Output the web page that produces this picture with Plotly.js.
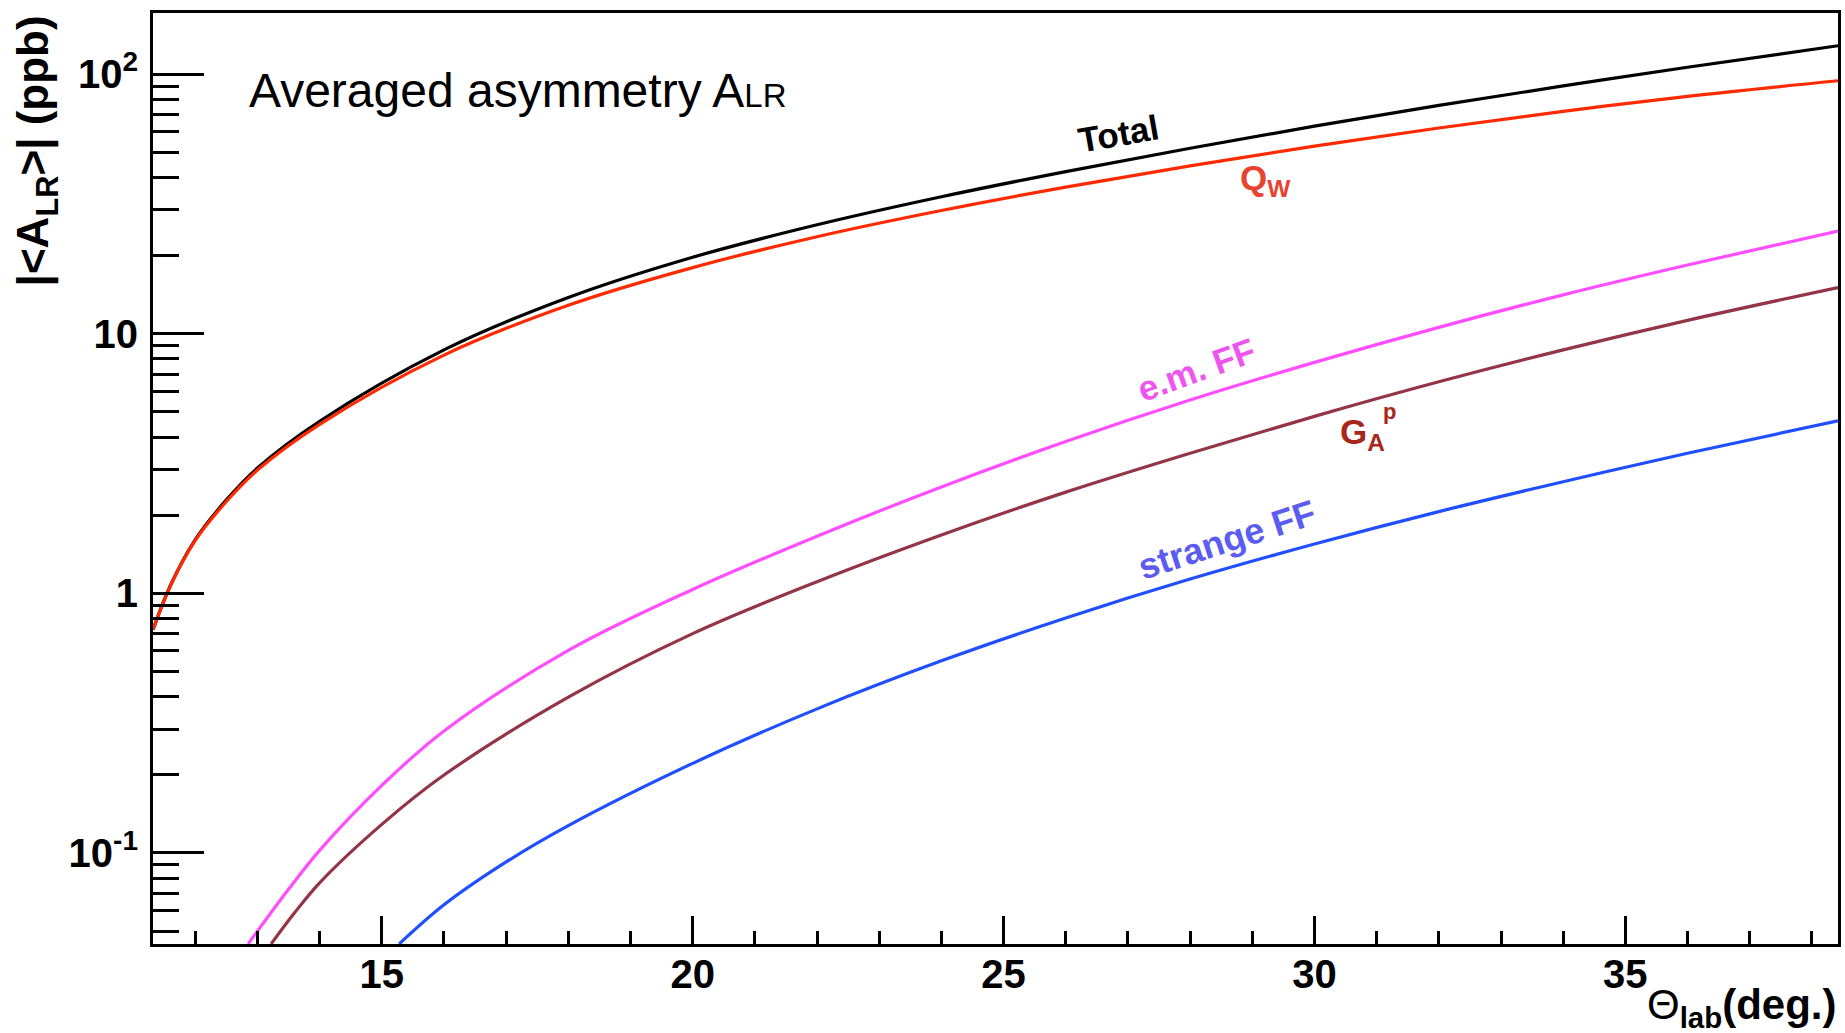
<!DOCTYPE html>
<html>
<head>
<meta charset="utf-8">
<script src="https://cdn.plot.ly/plotly-3.0.1.min.js"></script>
<style>html,body{margin:0;padding:0;background:#fff;}#chart{width:1845px;height:1033px;}</style>
</head>
<body>
<div id="chart"></div>
<script>
// ---- data ----
const thetaMain = [11.32, 11.6, 12, 12.5, 13, 14, 16, 18, 20, 22, 24, 26, 28, 30, 32, 34, 36, 38.42];
const totalAsym = [0.724, 1.072, 1.611, 2.291, 3.041, 4.603, 8.670, 13.80, 19.72, 26.30, 33.73, 42.17, 51.88, 63.10, 75.86, 90.16, 106.4, 128.8];
const qwAsym    = [0.724, 1.069, 1.600, 2.259, 2.985, 4.477, 8.279, 12.88, 17.99, 23.66, 29.85, 36.73, 44.36, 52.84, 62.09, 71.94, 82.22, 94.41];

const thetaEM = [12.85, 13.5, 14, 15, 16, 18, 20, 22, 24, 26, 28, 30, 32, 34, 36, 38.42];
const emFF    = [0.0446, 0.0724, 0.1023, 0.1820, 0.2951, 0.6026, 1.035, 1.660, 2.570, 3.846, 5.559, 7.762, 10.59, 14.13, 18.41, 24.89];

const thetaGA = [13.22, 13.6, 14, 15, 16, 18, 20, 22, 24, 26, 28, 30, 32, 34, 36, 38.42];
const gaP     = [0.0446, 0.0589, 0.0767, 0.1288, 0.1995, 0.3981, 0.6998, 1.109, 1.679, 2.455, 3.467, 4.808, 6.531, 8.670, 11.27, 15.07];

const thetaS  = [15.28, 16, 17, 18, 20, 22, 24, 26, 28, 30, 32, 34, 36, 38.42];
const strangeFF = [0.0446, 0.0631, 0.0923, 0.1274, 0.2213, 0.3589, 0.5495, 0.8035, 1.135, 1.549, 2.065, 2.692, 3.467, 4.624];

const xTickVals = [15, 20, 25, 30, 35];
const xTickText = ['15', '20', '25', '30', '35'];
const yTickVals = [0.1, 1, 10, 100];
const yTickText = ['10<sup>-1</sup>', '1', '10', '10<sup>2</sup>'];
const yMinorVals = [0.05, 0.06, 0.07, 0.08, 0.09, 0.2, 0.3, 0.4, 0.5, 0.6, 0.7, 0.8, 0.9,
                    2, 3, 4, 5, 6, 7, 8, 9, 20, 30, 40, 50, 60, 70, 80, 90];

// ---- styling ----
const FONT = 'Liberation Sans, Arial, Helvetica, sans-serif';
function line(x, y, color) {
  return {x: x, y: y, type: 'scatter', mode: 'lines', line: {color: color, width: 3.2, shape: 'spline', smoothing: 1.0}, hoverinfo: 'skip'};
}
const traces = [
  line(thetaMain, totalAsym, '#000000'),
  line(thetaMain, qwAsym, '#ff2a00'),
  line(thetaEM, emFF, '#ff4dff'),
  line(thetaGA, gaP, '#943447'),
  line(thetaS, strangeFF, '#1f4fff')
];

const boldFont = (size, color) => ({family: FONT, size: size, color: color, weight: 'bold'});

const layout = {
  width: 1845, height: 1033,
  margin: {l: 153, r: 7, t: 13, b: 89, pad: 0},
  paper_bgcolor: '#ffffff', plot_bgcolor: '#ffffff',
  showlegend: false,
  xaxis: {
    range: [11.32, 38.42], showgrid: false, zeroline: false,
    showline: true, linewidth: 3, linecolor: '#000', mirror: true,
    ticks: 'inside', ticklen: 28, tickwidth: 3, tickcolor: '#000',
    tickmode: 'array', tickvals: xTickVals, ticktext: xTickText,
    tickfont: boldFont(40, '#000'), ticklabelstandoff: -7,
    minor: {dtick: 1, tick0: 0, ticks: 'inside', ticklen: 13, tickwidth: 3, tickcolor: '#000', showgrid: false}
  },
  yaxis: {
    type: 'log', range: [-1.351, 2.236], showgrid: false, zeroline: false,
    showline: true, linewidth: 3, linecolor: '#000', mirror: true,
    ticks: 'inside', ticklen: 51, tickwidth: 3, tickcolor: '#000',
    tickmode: 'array', tickvals: yTickVals, ticktext: yTickText,
    tickfont: boldFont(40, '#000'), ticklabelstandoff: 4,
    minor: {tickmode: 'array', tickvals: yMinorVals, ticks: 'inside', ticklen: 26, tickwidth: 3, tickcolor: '#000', showgrid: false}
  },
  annotations: [
    {xref: 'paper', yref: 'paper', x: 0.0555, y: 0.917, xanchor: 'left', yanchor: 'middle', showarrow: false,
     text: 'Averaged asymmetry A<span style="font-size:33px">LR</span>', font: {family: FONT, size: 48, color: '#000'}},
    {xref: 'paper', yref: 'paper', x: -0.0695, y: 1.0, xanchor: 'center', yanchor: 'top', showarrow: false, textangle: -90,
     text: '|&lt;A<sub>LR</sub>&gt;| (ppb)', font: boldFont(44, '#000')},
    {xref: 'paper', yref: 'paper', x: 1.0, y: -0.068, xanchor: 'right', yanchor: 'middle', showarrow: false,
     text: '<span style="font-weight:normal">&#920;</span><sub>lab</sub>(deg.)', font: boldFont(42, '#000')},
    {xref: 'x', yref: 'y', x: 26.85, y: 1.773, showarrow: false, textangle: -10,
     text: 'Total', font: boldFont(35, '#000')},
    {xref: 'x', yref: 'y', x: 29.22, y: 1.592, showarrow: false,
     text: 'Q<sub>W</sub>', font: boldFont(35, '#e8432f')},
    {xref: 'x', yref: 'y', x: 28.1, y: 0.862, showarrow: false, textangle: -20,
     text: 'e.m. FF', font: boldFont(35, '#ee55ee')},
    {xref: 'x', yref: 'y', x: 30.78, y: 0.615, showarrow: false,
     text: 'G<sub>A</sub>', font: boldFont(35, '#a8261a')},
    {xref: 'x', yref: 'y', x: 31.2, y: 0.70, showarrow: false,
     text: 'p', font: boldFont(22, '#a8261a')},
    {xref: 'x', yref: 'y', x: 28.6, y: 0.206, showarrow: false, textangle: -18,
     text: 'strange FF', font: boldFont(36, '#5c5cf0')}
  ]
};

Plotly.newPlot('chart', traces, layout, {staticPlot: true, displayModeBar: false});
</script>
</body>
</html>
